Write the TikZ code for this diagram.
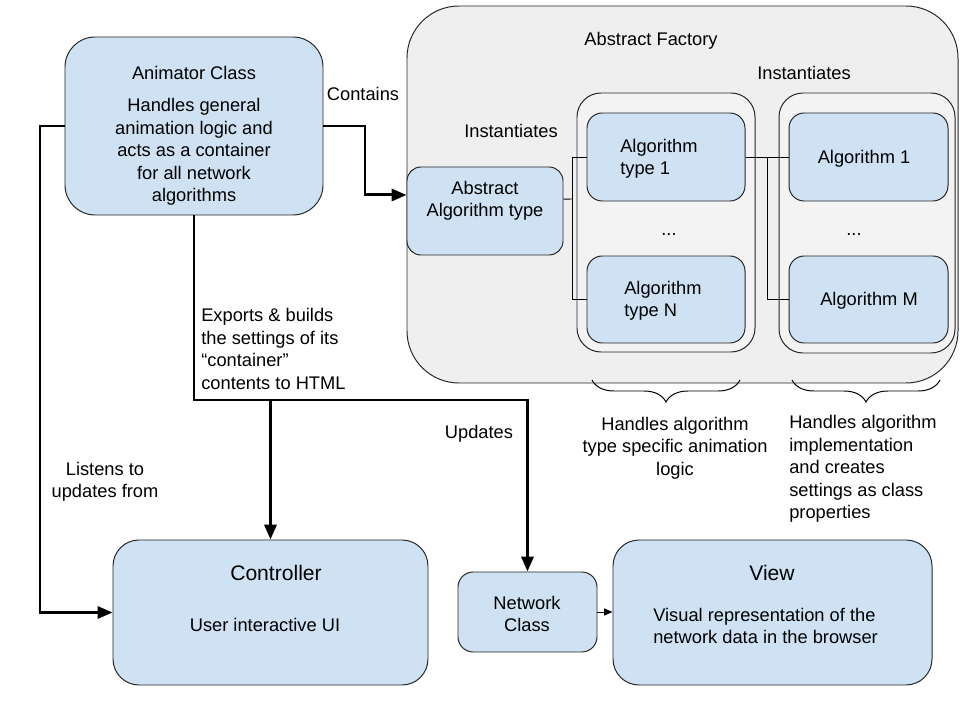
\documentclass[tikz,border=0pt]{standalone}
\usepackage{fontspec}
\setmainfont{Liberation Sans}
\usetikzlibrary{arrows.meta,fit,decorations.pathreplacing}

\definecolor{classblue}{HTML}{CFE2F3}
\definecolor{factorygray}{HTML}{EFEFEF}
\definecolor{groupgray}{HTML}{F3F3F3}

\tikzset {
  class box/.style = {
    draw=black!85,
    line width=0.7pt,
    fill=classblue,
    inner sep=0pt,
    rounded corners=#1
  },
  class box/.default = 0.38cm,
  group box/.style = {
    draw=black!85,
    line width=0.7pt,
    fill=groupgray,
    inner sep=0pt,
    rounded corners=0.6cm
  },
  body text/.style  = {font=\fontsize{13}{16}\selectfont, inner sep=0pt, align=center, yshift=-1.4pt},
  title text/.style = {font=\fontsize{15}{18}\selectfont, inner sep=0pt, yshift=-1pt},
  flow/.style = {line width=2.1pt, -{Triangle[length=10.5pt,width=8.5pt]}},
  link/.style = {line width=0.7pt},
  under brace/.style = {
    line width=0.7pt,
    decorate,
    decoration={brace, mirror, amplitude=0.55cm}
  }
}

\begin{document}
\begin{tikzpicture}[x=0.025cm, y=-0.025cm]

\useasboundingbox (0,0) rectangle (960,720);

% --- Abstract factory ---
\node[fit={(407,6) (958,383)}, draw=black!85, line width=0.7pt,
      fill=factorygray, inner sep=0pt, rounded corners=1.3cm] (factory) {};
\node[body text] (factorytitle) at (651,39) {Abstract Factory};

% Groups
\node[group box, fit={(577,93) (755,352)}] (typegroup) {};
\node[group box, fit={(779,93) (955,353)}] (implgroup) {};
\node[body text] (instleft)  at (511,129) {Instantiates};
\node[body text] (instright) at (804,71)  {Instantiates};

% Abstract type
\node[class box=0.35cm, fit={(407,167) (563,255)}] (absalg) {};
\node[body text] (absalgtext) at (485,199) {Abstract\\Algorithm type};

% Algorithm types
\node[class box, fit={(587,113) (745,201)}] (type1) {};
\node[class box, fit={(587,256) (745,343)}] (typeN) {};
\node[body text, align=left, anchor=west] (type1text) at (620,157) {Algorithm\\type 1};
\node[body text, align=left, anchor=west] (typeNtext) at (624,299) {Algorithm\\type N};
\node[body text] (typedots) at (669,233) {...};

% Algorithms
\node[class box, fit={(789,113) (948,201)}] (alg1) {};
\node[class box, fit={(789,256) (948,343)}] (algM) {};
\node[body text] (alg1text) at (864,157) {Algorithm 1};
\node[body text] (algMtext) at (869,299) {Algorithm M};
\node[body text] (algdots) at (854,233) {...};

% Instantiation links
\draw[link] ([yshift=8.5pt]absalg.east) -- (572,199);
\draw[link] (type1.west) -- (572,157) |- (typeN.west);
\draw[link] (type1.east) -- (alg1.west);
\draw[link] (767,157) |- (algM.west);

% Braces
\draw[under brace] (592,380) -- (740,380);
\draw[under brace] (792,380) -- (940,380);
\node[body text] (typenote) at (675,446)
  {Handles algorithm\\type specific animation\\logic};
\node[body text, align=left, anchor=west] (implnote) at (789,467)
  {Handles algorithm\\implementation\\and creates\\settings as class\\properties};


% --- Animator ---
\node[class box=0.75cm, fit={(65,37) (323,215)}] (animator) {};
\node[body text] (animtitle) at (194,71) {Animator Class};
\node[body text] (animbody) at (194,150)
  {Handles general\\animation logic and\\acts as a container\\for all network\\algorithms};


% --- Controller, network, view ---
\node[class box=0.65cm, fit={(113,540) (428,685)}] (controller) {};
\node[title text] (ctrltitle) at (276,572) {Controller};
\node[body text] (ctrlbody) at (265,623) {User interactive UI};

\node[class box, fit={(458,572) (597,652)}] (network) {};
\node[body text] (nettext) at (527,612) {Network\\Class};

\node[class box=0.65cm, fit={(613,540) (932,685)}] (view) {};
\node[title text] (viewtitle) at (772,572) {View};
\node[body text, align=left, anchor=west] (viewbody) at (653,624)
  {Visual representation of the\\network data in the browser};


% --- Arrows ---
\draw[flow] (animator.east) -- (365,126) |- ([yshift=11.4pt]absalg.west);
\node[body text] (containslabel) at (363,92) {Contains};

\draw[flow] (animator.west) -- (40,126) |- (controller.west);
\node[body text] (listenlabel) at (105,480) {Listens to\\updates from};

\draw[flow] (animator.south) -- (194,400) -| (network.north);
\draw[flow] (controller.north |- 0,400) -- (controller.north);
\node[body text, align=left, anchor=west] (exportlabel) at (201,347)
  {Exports \& builds\\the settings of its\\“container”\\contents to HTML};
\node[body text] (updatelabel) at (479,432) {Updates};

\draw[line width=0.7pt, -{Triangle[length=6pt,width=5pt]}]
  (network.east) -- (view.west |- network.east);

\end{tikzpicture}
\end{document}
